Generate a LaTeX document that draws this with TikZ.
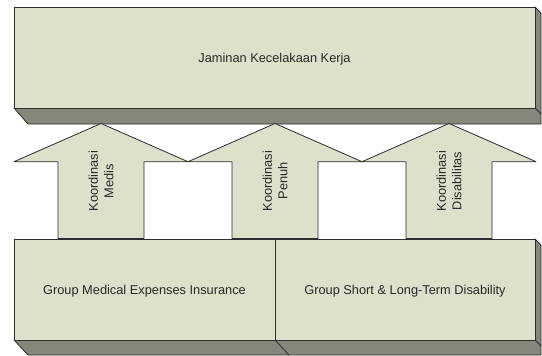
\documentclass[tikz,border=0pt]{standalone}
\usepackage{fontspec}
\setmainfont{Liberation Sans}
\definecolor{face}{RGB}{221,224,203}
\definecolor{depth}{RGB}{132,135,122}
\definecolor{edge}{RGB}{45,45,45}
\definecolor{txt}{RGB}{40,40,40}
\begin{document}
\begin{tikzpicture}[x=1pt,y=-1pt,line join=round,
  facestyle/.style={fill=face,draw=edge,line width=0.8pt},
  depthstyle/.style={fill=depth,draw=edge,line width=0.8pt},
  edgeline/.style={draw=edge,line width=0.8pt},
  lbl/.style={font=\fontsize{12.8}{15.5}\selectfont,text=txt,align=center,inner sep=0pt},
  vlbl/.style={lbl,rotate=90}]
\useasboundingbox (0,0) rectangle (542,356);
% top box
\draw[depthstyle] (14,108) -- (28,124) -- (541,124) -- (541,13) -- (535,7) -- (535,108) -- cycle;
\draw[edgeline] (535,108) -- (541,114);
\draw[facestyle] (14,7) rectangle (535,108);
\node[lbl,anchor=base] (top) at (274.5,62.5) {Jaminan Kecelakaan Kerja};
% bottom boxes
\draw[depthstyle] (14,340) -- (28,355) -- (541,355) -- (541,245) -- (535,239) -- (535,340) -- cycle;
\draw[edgeline] (275,340) -- (289,355);
\draw[edgeline] (535,340) -- (541,346);
\draw[facestyle] (14,239) rectangle (275,340);
\draw[facestyle] (275,239) rectangle (535,340);
\node[lbl,anchor=base] (med) at (144.5,294.3) {Group Medical Expenses Insurance};
\node[lbl,anchor=base] (dis) at (405,294.3) {Group Short \& Long-Term Disability};
% arrows
\foreach \c/\nm/\second in {101/a1/Medis,275/a2/Penuh,449/a3/Disabilitas}{
  \draw[facestyle] (\c,123.5) -- ({\c+87},161.7) -- ({\c+43},161.7) -- ({\c+43},238.5)
    -- ({\c-43},238.5) -- ({\c-43},161.7) -- ({\c-87},161.7) -- cycle;
  \node[vlbl] (\nm) at (\c,181) {Koordinasi\\\second};
}
\end{tikzpicture}
\end{document}
